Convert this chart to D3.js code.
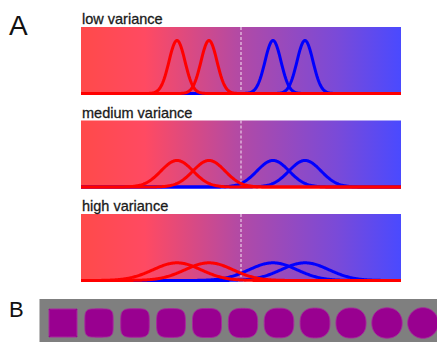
<!DOCTYPE html>
<html>
<head>
<meta charset="utf-8">
<script src="https://cdn.jsdelivr.net/npm/d3@7"></script>
<style>
  html, body { margin: 0; padding: 0; background: #fff; }
  svg { display: block; }
  text { font-family: "Liberation Sans", Arial, sans-serif; }
</style>
</head>
<body>
<svg id="chart" width="437" height="342"></svg>
<script>
// ---- data ----
const panelTitles = ["low variance", "medium variance", "high variance"];
const panelSigmas = [0.025, 0.05, 0.075];
const redMeans = [0.3, 0.4];
const blueMeans = [0.6, 0.7];
const boundary = 0.5;
const shapeExponents = [60, 4.8, 4.1, 3.6, 3.2, 2.9, 2.65, 2.45, 2.3, 2.15, 2.0];

// ---- layout ----
const W = 437, H = 342;
const svg = d3.select("#chart");
const left = 81, right = 401;
const panelTops = [27, 120.5, 214];
const panelH = 66.5;

const defs = svg.append("defs");
const grad = defs.append("linearGradient").attr("id", "rb")
  .attr("x1", "0%").attr("x2", "100%").attr("y1", "0%").attr("y2", "0%");
[[0, "#ff4a4a"], [0.2, "#ff4a62"], [0.5, "#b14aa6"], [0.8, "#7a4ad8"], [1, "#4a4aff"]]
  .forEach(([o, c]) => grad.append("stop").attr("offset", o).attr("stop-color", c));

const x = d3.scaleLinear().domain([0, 1]).range([left, right]);
const samples = d3.range(0, 1.0001, 0.0025);
const gauss = (m, s) => v => Math.exp(-0.5 * ((v - m) / s) ** 2) / (s * Math.sqrt(2 * Math.PI));

svg.append("text").attr("x", 9).attr("y", 35).attr("font-size", 28).attr("fill", "#111").text("A");

panelTitles.forEach((title, i) => {
  const top = panelTops[i], bottom = top + panelH;
  const y = d3.scaleLinear().domain([0, 20]).range([bottom, top]);
  const g = svg.append("g");
  g.append("rect").attr("x", left).attr("y", top).attr("width", right - left).attr("height", panelH)
    .attr("fill", "url(#rb)");
  g.append("text").attr("x", 82).attr("y", top - 3).attr("font-size", 14.5)
    .attr("fill", "#1a1a1a").attr("stroke", "#1a1a1a").attr("stroke-width", 0.3).text(title);
  g.append("line").attr("x1", x(boundary)).attr("x2", x(boundary)).attr("y1", top).attr("y2", bottom)
    .attr("stroke", "#f4e6f4").attr("stroke-width", 1).attr("stroke-dasharray", "3,2");
  const line = d3.line().x(d => x(d[0])).y(d => y(d[1]));
  const s = panelSigmas[i];
  blueMeans.forEach(m => {
    const f = gauss(m, s);
    g.append("path").attr("d", line(samples.map(v => [v, f(v)])))
      .attr("fill", "none").attr("stroke", "#0000ff").attr("stroke-width", 3).attr("stroke-linejoin", "round");
  });
  redMeans.forEach(m => {
    const f = gauss(m, s);
    g.append("path").attr("d", line(samples.map(v => [v, f(v)])))
      .attr("fill", "none").attr("stroke", "#ff0000").attr("stroke-width", 3).attr("stroke-linejoin", "round");
  });
});

// ---- panel B ----
svg.append("text").attr("x", 9).attr("y", 317).attr("font-size", 22).attr("fill", "#111").text("B");
svg.append("rect").attr("x", 39.5).attr("y", 299).attr("width", W - 39.5).attr("height", H - 299)
  .attr("fill", "#7f7f7f");
const sx = d3.scalePoint().domain(d3.range(shapeExponents.length)).range([63, 423]);
const sr = d3.scaleLinear().domain([0, shapeExponents.length - 1]).range([14, 15.3]);
const ts = d3.range(0, 2 * Math.PI + 0.001, Math.PI / 90);
const sgn = v => v < 0 ? -1 : 1;
shapeExponents.forEach((n, i) => {
  const a = sr(i);
  const pts = ts.map(t => [a * sgn(Math.cos(t)) * Math.abs(Math.cos(t)) ** (2 / n),
                           a * sgn(Math.sin(t)) * Math.abs(Math.sin(t)) ** (2 / n)]);
  svg.append("path").attr("transform", `translate(${sx(i)},323)`)
    .attr("d", d3.line()(pts) + "Z")
    .attr("fill", "#990090").attr("stroke", "#a8289e").attr("stroke-width", 1);
});
</script>
</body>
</html>
